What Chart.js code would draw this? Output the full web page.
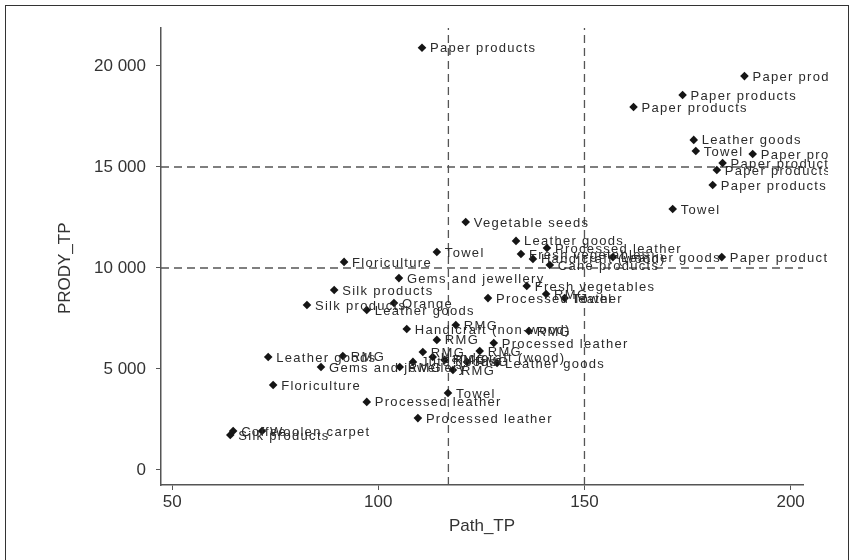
<!DOCTYPE html>
<html>
<head>
<meta charset="utf-8">
<script src="https://cdn.jsdelivr.net/npm/chart.js@4.4.1/dist/chart.umd.min.js"></script>
<style>
  html, body { margin: 0; padding: 0; background: #fff; }
  #wrap { width: 854px; height: 560px; }
</style>
</head>
<body>
<div id="wrap"><canvas id="prodyChart" width="854" height="560"></canvas></div>
<script>
// product labels with their Path_TP / PRODY_TP values
const productNames = [
  "Paper products", "Paper products", "Paper products", "Paper products",
  "Leather goods", "Towel", "Paper products", "Paper products",
  "Paper products", "Paper products", "Towel", "Vegetable seeds",
  "Leather goods", "Towel", "Processed leather", "Fresh vegetables",
  "Handicraft (wood)", "Cane products", "Leather goods", "Paper products",
  "Floriculture", "Gems and jewellery", "Silk products", "Fresh vegetables",
  "Silk products", "Orange", "Leather goods", "Processed leather",
  "RMG", "Towel", "Handicraft (non-wood)", "RMG",
  "RMG", "RMG", "Processed leather", "Leather goods",
  "RMG", "Gems and jewellery", "RMG", "RMG",
  "Leather goods", "RMG", "Handicraft (wood)", "RMG",
  "Jute goods", "RMG", "RMG", "Floriculture",
  "Processed leather", "Towel", "Processed leather", "Coffee",
  "Silk products", "Woolen carpet",
];
const pathTP = [
  110.6, 188.8, 173.8, 161.9,
  176.5, 177.0, 190.8, 183.5,
  182.1, 181.1, 171.4, 121.2,
  133.4, 114.2, 140.9, 134.6,
  137.5, 141.6, 156.9, 183.3,
  91.7, 105.0, 89.3, 136.0,
  82.7, 103.8, 97.2, 126.6,
  140.7, 145.2, 106.9, 118.8,
  136.5, 114.2, 128.0, 73.3,
  91.4, 86.1, 105.2, 118.1,
  128.8, 110.8, 113.2, 124.6,
  108.4, 116.1, 121.5, 74.5,
  97.2, 116.9, 109.6, 64.8,
  64.1, 71.8,
];
const prodyTP = [
  20900, 19500, 18560, 17970,
  16340, 15790, 15640, 15200,
  14850, 14110, 12920, 12280,
  11340, 10790, 10990, 10690,
  10450, 10150, 10540, 10540,
  10300, 9500, 8910, 9110,
  8170, 8270, 7920, 8510,
  8710, 8510, 6980, 7180,
  6880, 6440, 6290, 5590,
  5640, 5100, 5100, 4950,
  5300, 5840, 5590, 5890,
  5350, 5450, 5350, 4210,
  3370, 3810, 2570, 1930,
  1730, 1930,
];

// reference lines and axis ticks
const refPathTP = [117, 150];
const refProdyTP = [10000, 15000];
const xTicks = [50, 100, 150, 200];
const yTicks = [0, 5000, 10000, 15000, 20000];

const X_MIN = 47.3, X_MAX = 203;
const Y_MIN = -743, Y_MAX = 21880;

const FONT = '"Liberation Sans", Arial, sans-serif';

function spaced(v) {
  return String(v).replace(/\B(?=(\d{3})+(?!\d))/g, " ");
}

const scatterPoints = pathTP.map((x, i) => ({ x, y: prodyTP[i] }));

const refDatasets = [
  ...refPathTP.map((x) => ({
    data: [{ x, y: Y_MIN }, { x, y: Y_MAX }],
  })),
  ...refProdyTP.map((y) => ({
    data: [{ x: X_MIN, y }, { x: X_MAX, y }],
  })),
].map((d) => Object.assign(d, {
  showLine: true,
  pointRadius: 0,
  borderColor: "#555",
  borderWidth: 1.3,
  borderDash: [8, 5],
}));

// frame around the whole graph
const frame = {
  id: "frame",
  beforeDraw(chart) {
    const { ctx } = chart;
    ctx.save();
    ctx.fillStyle = "#fff";
    ctx.fillRect(0, 0, chart.width, chart.height);
    ctx.strokeStyle = "#333";
    ctx.lineWidth = 1;
    ctx.strokeRect(5.5, 5.5, 843, 560);
    ctx.restore();
  },
};

// product name next to each marker
const pointLabels = {
  id: "pointLabels",
  afterDatasetsDraw(chart) {
    const { ctx } = chart;
    const meta = chart.getDatasetMeta(0);
    ctx.save();
    ctx.beginPath();
    ctx.rect(0, 0, 828, chart.height);
    ctx.clip();
    ctx.font = "13px " + FONT;
    ctx.letterSpacing = "1.3px";
    ctx.fillStyle = "#2b2b2b";
    ctx.textBaseline = "middle";
    meta.data.forEach((pt, i) => {
      ctx.fillText(productNames[i], pt.x + 8, pt.y + 1);
    });
    ctx.restore();
  },
};

new Chart(document.getElementById("prodyChart"), {
  type: "scatter",
  data: {
    datasets: [
      {
        data: scatterPoints,
        pointStyle: "rectRot",
        pointRadius: 4.3,
        backgroundColor: "#151515",
        borderWidth: 0,
      },
      ...refDatasets,
    ],
  },
  options: {
    responsive: false,
    animation: false,
    layout: { padding: { top: 28, right: 51, left: 0, bottom: 0 } },
    plugins: {
      legend: { display: false },
      tooltip: { enabled: false },
    },
    scales: {
      x: {
        type: "linear",
        min: X_MIN,
        max: X_MAX,
        afterBuildTicks: (scale) => {
          scale.ticks = xTicks.map((v) => ({ value: v }));
        },
        afterFit: (scale) => {
          scale.height = 75;
        },
        border: { display: true, color: "#555", width: 1.5 },
        grid: { drawOnChartArea: false, tickLength: 5, color: "#555" },
        ticks: {
          font: { family: FONT, size: 17 },
          color: "#333",
          padding: 2,
          maxRotation: 0,
        },
        title: {
          display: true,
          text: "Path_TP",
          font: { family: FONT, size: 17 },
          color: "#333",
          padding: { top: 0, bottom: 23 },
        },
      },
      y: {
        type: "linear",
        min: Y_MIN,
        max: Y_MAX,
        afterBuildTicks: (scale) => {
          scale.ticks = yTicks.map((v) => ({ value: v }));
        },
        afterFit: (scale) => {
          scale.width = 161;
        },
        border: { display: true, color: "#555", width: 1.5 },
        grid: { drawOnChartArea: false, tickLength: 5, color: "#555" },
        ticks: {
          font: { family: FONT, size: 17 },
          color: "#333",
          padding: 10,
          callback: (v) => spaced(v),
        },
        title: {
          display: true,
          // trailing spaces move the rotated title a little below centre
          text: "PRODY_TP     ",
          font: { family: FONT, size: 17 },
          color: "#333",
          padding: { top: 55, bottom: 0 },
        },
      },
    },
  },
  plugins: [frame, pointLabels],
});
</script>
</body>
</html>
